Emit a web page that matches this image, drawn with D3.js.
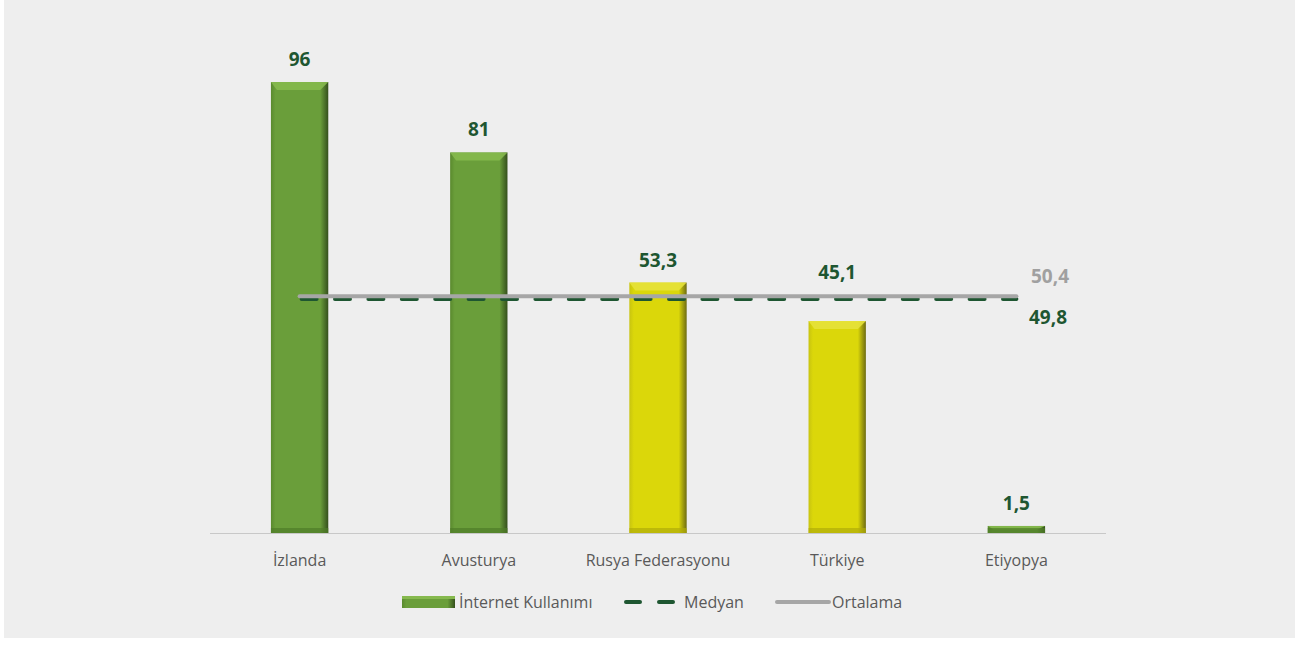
<!DOCTYPE html>
<html>
<head>
<meta charset="utf-8">
<script src="https://cdn.jsdelivr.net/npm/d3@7"></script>
<style>
  body { margin: 0; background: #fff; }
  svg { display: block; font-family: "Open Sans", sans-serif; }
</style>
</head>
<body>
<svg class="chart"></svg>
<script>
const categories = ["İzlanda", "Avusturya", "Rusya Federasyonu", "Türkiye", "Etiyopya"];
const values = [96, 81, 53.3, 45.1, 1.5];
const highlight = [false, false, true, true, false];
const meanValue = 50.4;
const medianValue = 49.8;
const legendLabels = ["İnternet Kullanımı", "Medyan", "Ortalama"];

const W = 1295, H = 646;
const fmt = (v) => String(v).replace(".", ",");

const svg = d3.select(".chart").attr("width", W).attr("height", H);

svg.append("rect").attr("x", 4).attr("y", 0).attr("width", W - 4).attr("height", 638).attr("fill", "#eeeeee");

const defs = svg.append("defs");
function barGrad(id, base, dark, light) {
    const g = defs.append("linearGradient").attr("id", id).attr("x1", 0).attr("x2", 1).attr("y1", 0).attr("y2", 0);
    g.append("stop").attr("offset", 0).attr("stop-color", light);
    g.append("stop").attr("offset", 0.08).attr("stop-color", base);
    g.append("stop").attr("offset", 0.86).attr("stop-color", base);
    g.append("stop").attr("offset", 1).attr("stop-color", dark);
}
barGrad("gGreen", "#6a9e3a", "#344f1c", "#5a8a2e");
barGrad("gYellow", "#dbd70a", "#6e6c12", "#c8c410");

const x = d3.scaleBand().domain(categories).range([210, 1106]).paddingInner(0.68).paddingOuter(0.34);
const y = d3.scaleLinear().domain([0, 96]).range([533, 82]);

// bars
const bars = svg.append("g").selectAll("g").data(values).enter().append("g");
bars.append("rect")
    .attr("x", (d, i) => x(categories[i]))
    .attr("y", (d) => y(d))
    .attr("width", x.bandwidth())
    .attr("height", (d) => y(0) - y(d))
    .attr("fill", (d, i) => highlight[i] ? "url(#gYellow)" : "url(#gGreen)");
// top bevel
bars.append("path")
    .attr("d", (d, i) => {
        const x0 = x(categories[i]), x1 = x0 + x.bandwidth(), t = y(d);
        const h = Math.min(8, (y(0) - t) / 2);
        return `M${x0},${t}L${x1},${t}L${x1 - 8},${t + h}L${x0 + 6},${t + h}Z`;
    })
    .attr("fill", (d, i) => highlight[i] ? "#e6e23a" : "#86b94e")
    .attr("opacity", 0.9);
// bottom shade
bars.append("rect")
    .attr("x", (d, i) => x(categories[i]))
    .attr("y", (d) => Math.max(y(d), y(0) - 5))
    .attr("width", x.bandwidth())
    .attr("height", (d) => Math.min(5, y(0) - y(d)))
    .attr("fill", (d, i) => highlight[i] ? "#b0ac08" : "#4f7c28")
    .attr("opacity", 0.7);

// axis
svg.append("line").attr("x1", 210).attr("x2", 1106).attr("y1", y(0) + 0.5).attr("y2", y(0) + 0.5)
    .attr("stroke", "#c8c8c8").attr("stroke-width", 1.2);
svg.append("g").selectAll("text").data(categories).enter().append("text")
    .attr("x", (d) => x(d) + x.bandwidth() / 2)
    .attr("y", 566)
    .attr("text-anchor", "middle")
    .attr("font-size", 16)
    .attr("fill", "#595959")
    .text((d) => d);

// value labels (kept above the reference lines when the bar ends below them)
svg.append("g").selectAll("text").data(values).enter().append("text")
    .attr("x", (d, i) => x(categories[i]) + x.bandwidth() / 2)
    .attr("y", (d) => {
        const ly = y(d) - 16;
        return (d < meanValue && d > 20) ? Math.min(ly, y(meanValue) - 17) : ly;
    })
    .attr("text-anchor", "middle")
    .attr("font-size", 19)
    .attr("font-weight", "bold")
    .attr("fill", "#1e5631")
    .text((d) => fmt(d));

// lines
const cx0 = x(categories[0]) + x.bandwidth() / 2;
const cx1 = x(categories[categories.length - 1]) + x.bandwidth() / 2;
svg.append("line").attr("x1", cx0 + 2).attr("x2", cx1).attr("y1", y(medianValue)).attr("y2", y(medianValue))
    .attr("stroke", "#1e5631").attr("stroke-width", 4).attr("stroke-dasharray", "15,18.4").attr("stroke-linecap", "round");
svg.append("line").attr("x1", cx0).attr("x2", cx1).attr("y1", y(meanValue)).attr("y2", y(meanValue))
    .attr("stroke", "#a6a6a6").attr("stroke-width", 4).attr("stroke-linecap", "round");

svg.append("text").attr("x", 1050).attr("y", 283).attr("text-anchor", "middle")
    .attr("font-size", 19).attr("font-weight", "bold").attr("fill", "#a0a0a0").text(fmt(meanValue));
svg.append("text").attr("x", 1048).attr("y", 324).attr("text-anchor", "middle")
    .attr("font-size", 19).attr("font-weight", "bold").attr("fill", "#1e5631").text(fmt(medianValue));

// legend
const leg = svg.append("g");
leg.append("rect").attr("x", 402).attr("y", 596).attr("width", 53).attr("height", 12).attr("fill", "url(#gGreen)");
leg.append("rect").attr("x", 402).attr("y", 596).attr("width", 53).attr("height", 3).attr("fill", "#86b94e");
leg.append("text").attr("x", 459).attr("y", 608).attr("font-size", 16).attr("fill", "#595959").text(legendLabels[0]);
leg.append("line").attr("x1", 626).attr("x2", 673).attr("y1", 602).attr("y2", 602)
    .attr("stroke", "#1e5631").attr("stroke-width", 4).attr("stroke-dasharray", "14,19").attr("stroke-linecap", "round");
leg.append("text").attr("x", 684).attr("y", 608).attr("font-size", 16).attr("fill", "#595959").text(legendLabels[1]);
leg.append("line").attr("x1", 777).attr("x2", 829).attr("y1", 602).attr("y2", 602)
    .attr("stroke", "#a6a6a6").attr("stroke-width", 4).attr("stroke-linecap", "round");
leg.append("text").attr("x", 832).attr("y", 608).attr("font-size", 16).attr("fill", "#595959").text(legendLabels[2]);
</script>
</body>
</html>
